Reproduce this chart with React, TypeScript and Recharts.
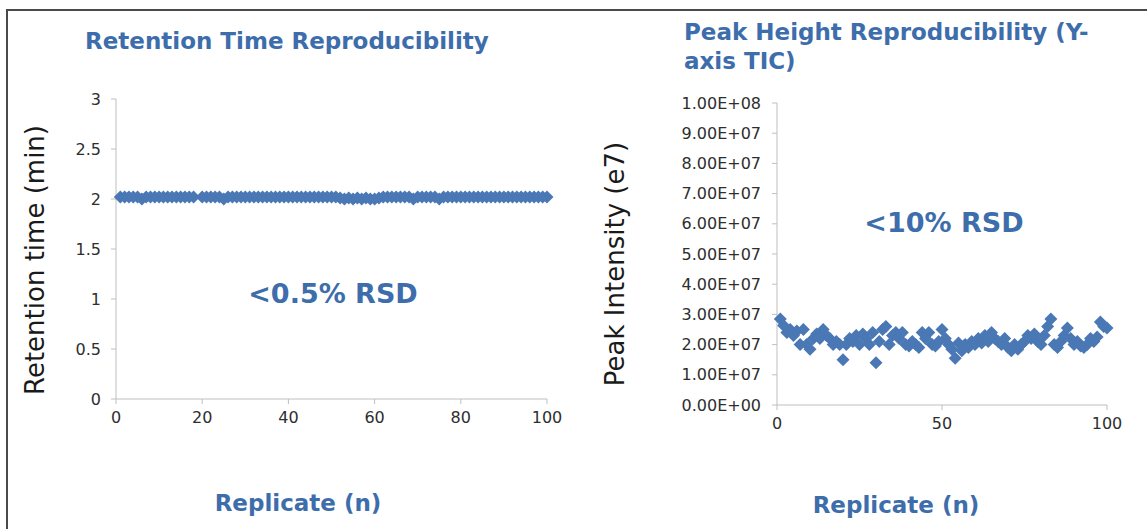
import React from "react";
import { ScatterChart, Scatter, XAxis, YAxis } from "recharts";

// ---- Data ----
const rtTitle = "Retention Time Reproducibility";
const phTitleLines = ["Peak Height Reproducibility (Y-", "axis TIC)"];
const rtAnnotation = "<0.5% RSD";
const phAnnotation = "<10% RSD";
const xAxisTitle = "Replicate (n)";
const rtYAxisTitle = "Retention time (min)";
const phYAxisTitle = "Peak Intensity (e7)";

const rtXTicks = [0, 20, 40, 60, 80, 100];
const rtYTicks = [0, 0.5, 1, 1.5, 2, 2.5, 3];
const phXTicks = [0, 50, 100];
const phYTicks = [0, 1e7, 2e7, 3e7, 4e7, 5e7, 6e7, 7e7, 8e7, 9e7, 1e8];

// retention time (min) for replicates 1..100 (null = no point)
const rtValues: (number | null)[] = [
  2.02, 2.02, 2.02, 2.02, 2.02, 2.0, 2.02, 2.02, 2.02, 2.02,
  2.02, 2.02, 2.02, 2.02, 2.02, 2.02, 2.02, 2.02, null, 2.02,
  2.02, 2.02, 2.02, 2.02, 2.0, 2.02, 2.02, 2.02, 2.02, 2.02,
  2.02, 2.02, 2.02, 2.02, 2.02, 2.02, 2.02, 2.02, 2.02, 2.02,
  2.02, 2.02, 2.02, 2.02, 2.02, 2.02, 2.02, 2.02, 2.02, 2.02,
  2.02, 2.01, 2.0, 2.01, 2.0, 2.01, 2.0, 2.01, 2.0, 2.0,
  2.01, 2.02, 2.02, 2.02, 2.02, 2.02, 2.02, 2.02, 2.0, 2.02,
  2.02, 2.02, 2.02, 2.02, 2.0, 2.02, 2.02, 2.02, 2.02, 2.02,
  2.02, 2.02, 2.02, 2.02, 2.02, 2.02, 2.02, 2.02, 2.02, 2.02,
  2.02, 2.02, 2.02, 2.02, 2.02, 2.02, 2.02, 2.02, 2.02, 2.02,
];

// peak intensity (units of 1e7) for replicates 1..100
const PEAK_UNIT = 1e7;
const phValues: number[] = [
  2.85, 2.63, 2.4, 2.5, 2.3, 2.45, 2.0, 2.5, 2.0, 1.85,
  2.2, 2.35, 2.2, 2.5, 2.3, 2.2, 2.0, 2.1, 2.0, 1.5,
  2.0, 2.2, 2.1, 2.3, 2.0, 2.35, 2.2, 2.0, 2.4, 1.4,
  2.1, 2.5, 2.6, 2.0, 2.3, 2.4, 2.2, 2.4, 2.0, 1.95,
  2.1, 2.0, 1.9, 2.4, 2.2, 2.4, 2.0, 1.95, 2.1, 2.5,
  2.2, 2.0, 1.85, 1.55, 2.05, 1.8, 2.0, 1.9, 2.1, 2.0,
  2.2, 2.05, 2.3, 2.1, 2.4, 2.2, 2.1, 2.0, 2.2, 1.9,
  1.8, 2.0, 1.85, 2.0, 2.1, 2.3, 2.2, 2.35, 2.1, 2.0,
  2.3, 2.6, 2.85, 2.0, 1.9, 2.1, 2.3, 2.55, 2.2, 2.0,
  2.1, 1.95, 1.9, 2.0, 2.2, 2.1, 2.25, 2.75, 2.6, 2.55,
];

const rtData = rtValues
  .map((v, i) => ({ replicate: i + 1, rt: v }))
  .filter((d) => d.rt !== null);
const phData = phValues.map((v, i) => ({ replicate: i + 1, intensity: v * PEAK_UNIT }));

// ---- Styles ----
const MARKER = "#4a78b5";
const TITLE = "#3d6dab";
const AXIS = "#bfbfbf";
const TICK_TEXT = "#2e2e2e";
const FONT = "'DejaVu Sans', Verdana, sans-serif";

const Diamond = (props: any) => {
  const { cx, cy } = props;
  if (cx == null || cy == null) return null;
  const r = 6.5;
  return (
    <polygon
      points={`${cx},${cy - r} ${cx + r},${cy} ${cx},${cy + r} ${cx - r},${cy}`}
      fill={MARKER}
    />
  );
};

const sciFormat = (v: number) => {
  const [m, e] = v.toExponential(2).split("e");
  const sign = e[0] === "-" ? "-" : "+";
  const digits = e.replace(/[+-]/, "").padStart(2, "0");
  return `${m}E${sign}${digits}`;
};

const tickStyle = { fill: TICK_TEXT, fontSize: 16, fontFamily: FONT };

const abs = (style: React.CSSProperties): React.CSSProperties => ({
  position: "absolute",
  whiteSpace: "nowrap",
  fontFamily: FONT,
  ...style,
});

export default function App() {
  return (
    <div
      style={{
        position: "absolute",
        left: 0,
        top: 0,
        width: 1147,
        height: 529,
        overflow: "hidden",
        background: "#ffffff",
        fontFamily: FONT,
      }}
    >
      <div
        style={{
          position: "absolute",
          left: 6,
          top: 9,
          width: 1200,
          height: 600,
          borderTop: "2px solid #4a4a4a",
          borderLeft: "2px solid #4a4a4a",
        }}
      />

      {/* Left chart */}
      <div style={{ position: "absolute", left: 0, top: 0 }}>
        <ScatterChart
          width={580}
          height={529}
          margin={{ top: 99, right: 33, bottom: 100, left: 56 }}
        >
          <XAxis
            type="number"
            dataKey="replicate"
            domain={[0, 100]}
            ticks={rtXTicks}
            height={30}
            axisLine={{ stroke: AXIS }}
            tickLine={{ stroke: AXIS }}
            tickSize={5}
            tickMargin={8}
            tick={tickStyle}
          />
          <YAxis
            type="number"
            dataKey="rt"
            domain={[0, 3]}
            ticks={rtYTicks}
            width={60}
            axisLine={{ stroke: AXIS }}
            tickLine={{ stroke: AXIS }}
            tickSize={5}
            tickMargin={10}
            tick={tickStyle}
          />
          <Scatter data={rtData} shape={Diamond} isAnimationActive={false} />
        </ScatterChart>
      </div>

      {/* Right chart */}
      <div style={{ position: "absolute", left: 580, top: 0 }}>
        <ScatterChart
          width={567}
          height={529}
          margin={{ top: 103, right: 40, bottom: 94, left: 77 }}
        >
          <XAxis
            type="number"
            dataKey="replicate"
            domain={[0, 100]}
            ticks={phXTicks}
            height={30}
            axisLine={{ stroke: AXIS }}
            tickLine={{ stroke: AXIS }}
            tickSize={5}
            tickMargin={8}
            tick={tickStyle}
          />
          <YAxis
            type="number"
            dataKey="intensity"
            domain={[0, 1e8]}
            ticks={phYTicks}
            tickFormatter={sciFormat}
            width={120}
            axisLine={{ stroke: AXIS }}
            tickLine={{ stroke: AXIS }}
            tickSize={5}
            tickMargin={11}
            tick={tickStyle}
          />
          <Scatter data={phData} shape={Diamond} isAnimationActive={false} />
        </ScatterChart>
      </div>

      {/* Titles */}
      <div style={abs({ left: 85, top: 27, fontSize: 23, fontWeight: 700, color: TITLE, lineHeight: "29px" })}>
        {rtTitle}
      </div>
      <div style={abs({ left: 684, top: 18, fontSize: 23, fontWeight: 700, color: TITLE, lineHeight: "29px" })}>
        {phTitleLines[0]}
        <br />
        {phTitleLines[1]}
      </div>

      {/* Annotations */}
      <div style={abs({ left: 333, top: 293, transform: "translate(-50%, -50%)", fontSize: 27, fontWeight: 700, color: TITLE })}>
        {rtAnnotation}
      </div>
      <div style={abs({ left: 944, top: 222, transform: "translate(-50%, -50%)", fontSize: 27, fontWeight: 700, color: TITLE })}>
        {phAnnotation}
      </div>

      {/* X axis titles */}
      <div style={abs({ left: 298, top: 503, transform: "translate(-50%, -50%)", fontSize: 23, fontWeight: 700, color: TITLE })}>
        {xAxisTitle}
      </div>
      <div style={abs({ left: 896, top: 505, transform: "translate(-50%, -50%)", fontSize: 23, fontWeight: 700, color: TITLE })}>
        {xAxisTitle}
      </div>

      {/* Y axis titles */}
      <div style={abs({ left: 35, top: 260, transform: "translate(-50%, -50%) rotate(-90deg)", fontSize: 26, color: "#1a1a1a" })}>
        {rtYAxisTitle}
      </div>
      <div style={abs({ left: 615, top: 264, transform: "translate(-50%, -50%) rotate(-90deg)", fontSize: 26, color: "#1a1a1a" })}>
        {phYAxisTitle}
      </div>
    </div>
  );
}
